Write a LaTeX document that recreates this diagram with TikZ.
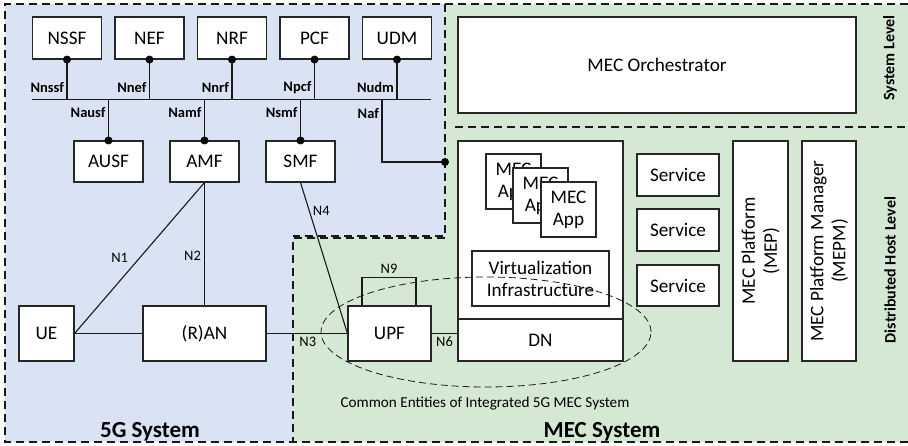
\documentclass[tikz,border=0pt]{standalone}
\usepackage{fontspec}
\setmainfont{Carlito}
\usepackage{tikz}
\usetikzlibrary{positioning}

\definecolor{fgblue}{RGB}{218,227,243}
\definecolor{mecgreen}{RGB}{213,232,212}
\newcommand{\nffont}{\fontsize{19.2}{22}\selectfont}
\newcommand{\ifcfont}{\bfseries\fontsize{14.5}{16}\selectfont}
\newcommand{\rpfont}{\fontsize{14.5}{16}\selectfont}
\newcommand{\capfont}{\fontsize{15.2}{17}\selectfont}
\newcommand{\sysfont}{\bfseries\fontsize{23}{26}\selectfont}
\newcommand{\lvlfont}{\bfseries\fontsize{16}{18}\selectfont}

\begin{document}
\begin{tikzpicture}[x=1pt, y=-1pt,
        nf/.style={draw=black!85, fill=white, line width=1.1pt, inner sep=0pt, align=center, font=\nffont},
        nfs/.style={nf, minimum width=69, minimum height=42},
        appbox/.style={nf, minimum width=55, minimum height=55},
        svc/.style={nf, minimum width=82, minimum height=42},
        ifc/.style={font=\ifcfont, inner sep=2.5pt},
        rp/.style={font=\rpfont, inner sep=3pt},
        link/.style={draw=black!90, line width=1.1pt},
        border/.style={draw=black!90, line width=1.8pt, dash pattern=on 8pt off 5pt},
        cedash/.style={draw=black!90, line width=0.8pt, dash pattern=on 7pt off 4pt}
    ]
        \useasboundingbox (0,0) rectangle (908,446);

        % system areas
        \fill[fgblue] (5,4) -- (445,4) -- (445,237) -- (293,237) -- (293,442) -- (5,442) -- cycle;
        \fill[mecgreen] (445,4) -- (908,4) -- (908,442) -- (293,442) -- (293,237) -- (445,237) -- cycle;
        \draw[border] (908,4) -- (5,4) -- (5,442) -- (908,442);
        \draw[border] (445,4) -- (445,236) -- (293,236);
        \draw[border] (445,238) -- (293,238) -- (293,442);
        \draw[border] (455,127) -- (908,127);

        \node[font=\sysfont, anchor=base] (fgsys) at (150,437) {5G System};
        \node[font=\sysfont, anchor=base] (mecsys) at (602,437) {MEC System};
        \node[font=\lvlfont, rotate=90] (syslvl) at (890,58) {System Level};
        \node[font=\lvlfont, rotate=90] (hostlvl) at (890,270) {Distributed Host Level};

        % 5G core functions
        \node[nfs] (nssf) at (67,38) {NSSF};
        \node[nfs] (nef) at (149.5,38) {NEF};
        \node[nfs] (nrf) at (232,38) {NRF};
        \node[nfs] (pcf) at (314.5,38) {PCF};
        \node[nfs] (udm) at (397,38) {UDM};
        \node[nfs, minimum height=41] (ausf) at (108.5,161.5) {AUSF};
        \node[nfs, minimum height=41] (amf) at (204.5,161.5) {AMF};
        \node[nfs, minimum height=41] (smf) at (300.5,161.5) {SMF};

        \coordinate (busw) at (32,99.5);
        \coordinate (buse) at (431,99.5);
        \coordinate (nafj) at (382,99.5);
        \coordinate (mecp) at (445,162);

        \draw[link] (busw) -- (buse);
        \draw[link] (nssf.south) -- node[ifc, left, pos=0.7] {Nnssf} (nssf.south |- busw);
        \draw[link] (nef.south) -- node[ifc, left, pos=0.7] {Nnef} (nef.south |- busw);
        \draw[link] (nrf.south) -- node[ifc, left, pos=0.7] {Nnrf} (nrf.south |- busw);
        \draw[link] (pcf.south) -- node[ifc, left, pos=0.7] {Npcf} (pcf.south |- busw);
        \draw[link] (udm.south) -- node[ifc, left, pos=0.7] {Nudm} (udm.south |- busw);
        \draw[link] (ausf.north |- busw) -- node[ifc, left, pos=0.33] {Nausf} (ausf.north);
        \draw[link] (amf.north |- busw) -- node[ifc, left, pos=0.33] {Namf} (amf.north);
        \draw[link] (smf.north |- busw) -- node[ifc, left, pos=0.33] {Nsmf} (smf.north);
        \draw[link] (nafj) |- node[ifc, left, pos=0.11] {Naf} (mecp);

        \fill (nssf.south) circle (4pt);
        \fill (nef.south) circle (4pt);
        \fill (nrf.south) circle (4pt);
        \fill (pcf.south) circle (4pt);
        \fill (udm.south) circle (4pt);
        \fill (ausf.north) circle (4pt);
        \fill (amf.north) circle (4pt);
        \fill (smf.north) circle (4pt);
        \fill (mecp) circle (4pt);

        % MEC side
        \node[nf, minimum width=398, minimum height=96] (meo) at (657,65) {MEC Orchestrator};
        \node[nf, minimum width=165, minimum height=178] (host) at (540.5,230) {};
        \node[nf, minimum width=165, minimum height=42] (dn) at (540.5,340) {DN};
        \node[appbox] (app1) at (513.5,181.5) {MEC\\App};
        \node[appbox] (app2) at (540.5,195.5) {MEC\\App};
        \node[appbox] (app3) at (568.5,209.5) {MEC\\App};
        \node[nf, minimum width=137, minimum height=55] (virt) at (540.5,278.5) {Virtualization\\Infrastructure};
        \node[svc] (svc1) at (678,175) {Service};
        \node[svc] (svc2) at (678,230) {Service};
        \node[svc, minimum height=41] (svc3) at (678,285.5) {Service};
        \node[nf, rotate=90, minimum width=220, minimum height=55] (mep) at (760.5,251) {MEC Platform\\(MEP)};
        \node[nf, rotate=90, minimum width=220, minimum height=54] (mepm) at (829,251) {MEC Platform Manager\\(MEPM)};

        % common entities
        \draw[cedash] (486,332) ellipse [x radius=165pt, y radius=55pt];
        \node[font=\capfont, anchor=base] (cecap) at (485,407) {Common Entities of Integrated 5G MEC System};

        % access and user plane
        \node[nf, minimum width=55, minimum height=55] (ue) at (46.5,333.5) {UE};
        \node[nf, minimum width=123, minimum height=55] (ran) at (204.5,333.5) {(R)AN};
        \node[nf, minimum width=83, minimum height=55] (upf) at (389.5,333.5) {UPF};

        \draw[link] (ue.east) -- node[rp, left=8pt, pos=0.5] {N1} (amf.south);
        \draw[link] (amf.south) -- node[rp, left, pos=0.6] {N2} (ran.north);
        \draw[link] (ue.east) -- (ran.west);
        \draw[link] (ran.east) -- node[rp, below, pos=0.51] {N3} (upf.west);
        \draw[link] (smf.south) -- node[rp, right, pos=0.19] {N4} (upf.west);
        \draw[link] (upf.east) -- node[rp, below, pos=0.5] {N6} (upf.east -| dn.west);
        \draw[link] ([xshift=-27.5pt]upf.north) |- node[rp, above, pos=0.75] {N9} ([xshift=26.5pt, yshift=28pt]upf.north) -- ([xshift=26.5pt]upf.north);
    \end{tikzpicture}
\end{document}
